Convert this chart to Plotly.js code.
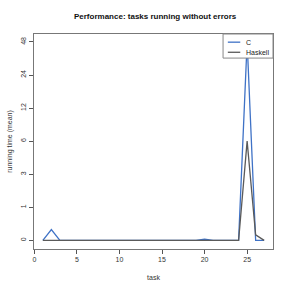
<!DOCTYPE html>
<html>
<head>
<meta charset="utf-8">
<script src="https://cdn.plot.ly/plotly-3.0.1.min.js"></script>
<style>html,body{margin:0;padding:0;background:#fff;}#chart{width:291px;height:291px;}</style>
</head>
<body>
<div id="chart"></div>
<script>
// Data
var tasks = [1,2,3,4,5,6,7,8,9,10,11,12,13,14,15,16,17,18,19,20,21,22,23,24,25,26,27];
var cTimes = [0,0.33,0,0,0,0,0,0,0.02,0,0,0,0,0,0.02,0,0,0,0,0.04,0,0,0,0,48,0,0];
var haskellTimes = [0,0,0,0,0,0,0,0,0.01,0,0,0,0,0,0.01,0,0,0,0,0.02,0,0,0,0,6,0.17,0];
var seriesNames = ['C', 'Haskell'];
var seriesColors = ['#3f72c6', '#5a5a5a'];
var yTickLabels = [0,1,3,6,12,24,48];
var xTickVals = [0,5,10,15,20,25];

// y scale: tick labels are equally spaced; values mapped piecewise between them
function yScale(v){
  for (var i=0;i<yTickLabels.length-1;i++){
    var a=yTickLabels[i], b=yTickLabels[i+1];
    if (v<=b) return i + (v-a)/(b-a);
  }
  return yTickLabels.length-1;
}
var yPos = yTickLabels.map(function(_,i){return i;});

var allSeries = [cTimes, haskellTimes];
var traces = allSeries.map(function(s, i){
  return {x: tasks, y: s.map(yScale), name: seriesNames[i], mode: 'lines', type: 'scatter',
          line: {color: seriesColors[i], width: 1.3}, showlegend: false};
});

var font = {family: 'Liberation Sans, Arial, sans-serif', color: '#222'};

// legend box (paper coordinates)
var lx0 = 0.791, ly0 = 0.888, rowY = [0.962, 0.915];
var shapes = [{type: 'rect', xref: 'paper', yref: 'paper', x0: lx0, x1: 1, y0: ly0, y1: 1,
               fillcolor: '#fff', line: {color: '#888', width: 1}, layer: 'above'}];
var annotations = [];
seriesNames.forEach(function(n, i){
  shapes.push({type: 'line', xref: 'paper', yref: 'paper', x0: lx0 + 0.02, x1: lx0 + 0.072,
               y0: rowY[i], y1: rowY[i], line: {color: seriesColors[i], width: 1.3}, layer: 'above'});
  annotations.push({xref: 'paper', yref: 'paper', x: lx0 + 0.088, y: rowY[i], xanchor: 'left', yanchor: 'middle',
                    text: n, showarrow: false, font: {family: font.family, size: 7, color: '#222'}});
});

var layout = {
  width: 291, height: 291,
  margin: {l: 34, r: 18, t: 34, b: 42},
  paper_bgcolor: '#fff', plot_bgcolor: '#fff',
  title: {text: '<b>Performance: tasks running without errors</b>', x: 0.533, xanchor: 'center',
          y: 0.945, yanchor: 'middle', font: {family: font.family, size: 8, color: '#111'}},
  xaxis: {range: [-0.04, 28.04], tickvals: xTickVals, ticktext: xTickVals.map(String),
          showgrid: false, zeroline: false, showline: true, mirror: true, linecolor: '#777', linewidth: 1,
          ticks: 'outside', ticklen: 4, tickcolor: '#555',
          tickfont: {family: font.family, size: 7, color: '#333'},
          title: {text: 'task', font: {family: font.family, size: 7, color: '#333'}, standoff: 12}},
  yaxis: {range: [-0.26, 6.24], tickvals: yPos, ticktext: yTickLabels.map(String), tickangle: -90,
          showgrid: false, zeroline: false, showline: true, mirror: true, linecolor: '#777', linewidth: 1,
          ticks: 'outside', ticklen: 4, tickcolor: '#555',
          tickfont: {family: font.family, size: 7, color: '#333'},
          title: {text: 'running time (mean)', font: {family: font.family, size: 7, color: '#333'}, standoff: 6}},
  showlegend: false,
  shapes: shapes,
  annotations: annotations
};

Plotly.newPlot('chart', traces, layout, {staticPlot: true, displayModeBar: false});
</script>
</body>
</html>
